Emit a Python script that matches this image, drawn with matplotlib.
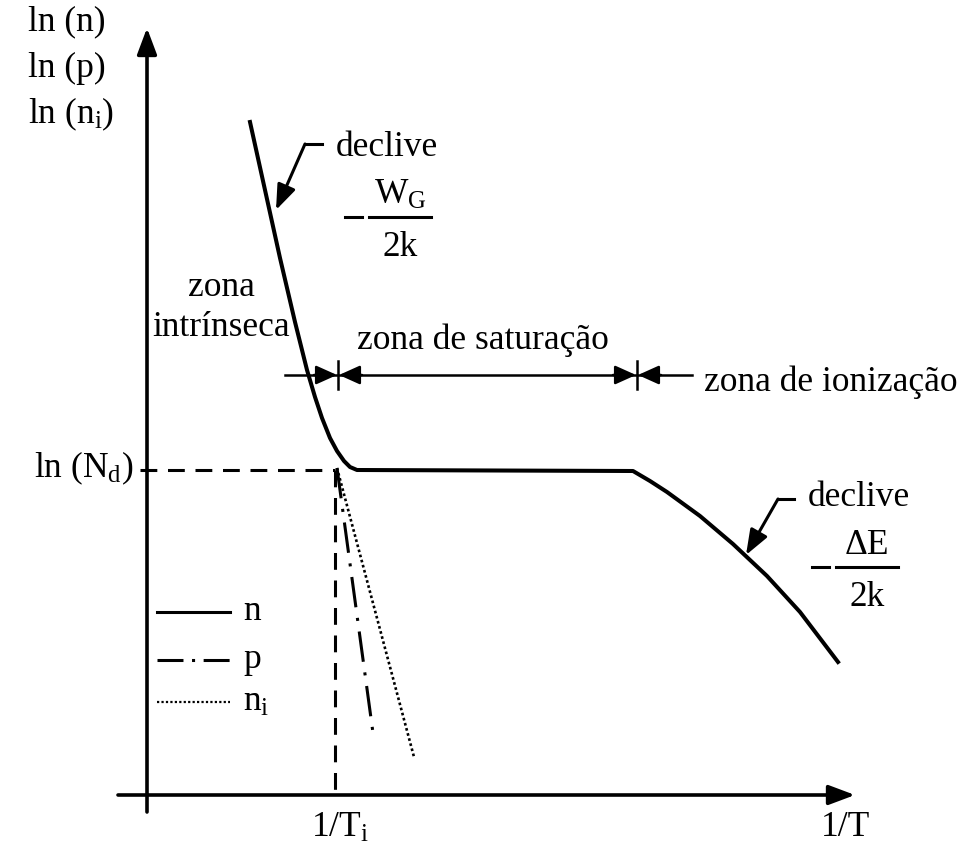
import matplotlib.pyplot as plt

plt.rcParams['font.family'] = ['Liberation Serif', 'DejaVu Serif']
plt.rcParams['mathtext.fontset'] = 'custom'
plt.rcParams['mathtext.rm'] = 'Liberation Serif'
plt.rcParams['mathtext.it'] = 'Liberation Serif:italic'

# curve n: intrinsic slope, saturation plateau, ionization slope
n_x = [250, 265, 280, 295, 307, 315, 322, 330, 337, 344, 350, 357,
       633, 650, 667, 700, 733, 767, 800, 838]
n_y = [122, 190, 258, 322, 370, 397, 418, 438, 451, 461, 467, 470,
       471, 481, 492, 516, 544, 576, 612, 662]

# p and n_i below the saturation level
p_x = [337, 373]
p_y = [468, 733]
ni_x = [337, 414]
ni_y = [468, 757]

# reference levels
nd_level = 470
ti_pos = 335
zone_y = 375
zone_ticks = [338, 637]
zone_span = [285, 692]

y_labels = ['ln (n)', 'ln (p)', 'ln (n$_\\mathrm{i}$)']
legend_labels = ['n', 'p', 'n$_\\mathrm{i}$']

FS = 25.5
LW = 2.9

fig = plt.figure(figsize=(9.64, 8.47), dpi=100)
ax = fig.add_axes([0, 0, 1, 1])
ax.set_xlim(0, 964)
ax.set_ylim(847, 0)
ax.axis('off')


def arrow(x0, y0, x1, y1, lw=2.2, scale=18, hl=0.8, hw=0.3):
    ax.annotate('', xy=(x1, y1), xytext=(x0, y0),
                arrowprops=dict(arrowstyle=f'-|>,head_length={hl},head_width={hw}',
                                color='black', lw=lw, shrinkA=0, shrinkB=0,
                                mutation_scale=scale))


# axes
arrow(147, 812, 147, 28, lw=2.6, scale=20, hl=0.8, hw=0.3)
arrow(118, 795, 855, 795, lw=2.6, scale=20, hl=0.8, hw=0.3)

# ln(Nd) and 1/Ti guides
ax.plot([140, ti_pos], [nd_level, nd_level], color='black', lw=2.2,
        linestyle=(0, (5.5, 3.5)))
ax.plot([ti_pos, ti_pos], [nd_level, 800], color='black', lw=2.2,
        linestyle=(0, (5.5, 3.5)))

# carrier curves
ax.plot(n_x, n_y, color='black', lw=LW, solid_joinstyle='round')
ax.plot(p_x, p_y, color='black', lw=2.2, linestyle=(0, (10, 3.5, 1, 3.5)))
ax.plot(ni_x, ni_y, color='black', lw=1.9, linestyle=(0, (1, 1)))

# zone boundaries
ax.plot(zone_span, [zone_y, zone_y], color='black', lw=1.8)
for t in zone_ticks:
    ax.plot([t, t], [zone_y - 14, zone_y + 14], color='black', lw=1.8)
    arrow(t - 24, zone_y, t - 1, zone_y, lw=1.8, scale=16, hl=0.8, hw=0.36)
    arrow(t + 24, zone_y, t + 1, zone_y, lw=1.8, scale=16, hl=0.8, hw=0.36)

ax.text(221, 287, 'zona', fontsize=FS, ha='center', va='center')
ax.text(221, 327, 'intrínseca', fontsize=FS, ha='center', va='center')
ax.text(483, 340, 'zona de saturação', fontsize=FS, ha='center', va='center')
ax.text(704, 382, 'zona de ionização', fontsize=FS, ha='left', va='center')

# axis labels
for i, lab in enumerate(y_labels):
    ax.text(28, 22 + i * 46, lab, fontsize=FS, ha='left', va='center')
ax.text(133, 468, 'ln (N$_\\mathrm{d}$)', fontsize=FS, ha='right', va='center')
ax.text(340, 828, '1/T$_\\mathrm{i}$', fontsize=FS, ha='center', va='center')
ax.text(845, 828, '1/T', fontsize=FS, ha='center', va='center')


def slope_note(x_text, y_text, numer, x_bar, hook, tip):
    ax.text(x_text, y_text, 'declive', fontsize=FS, ha='left', va='center')
    bar_y = y_text + 70
    ax.plot([x_bar - 60, x_bar - 43], [bar_y, bar_y], color='black', lw=2.2)
    ax.plot([x_bar - 36, x_bar + 26], [bar_y, bar_y], color='black', lw=2.2)
    ax.text(x_bar - 5, bar_y - 22, numer, fontsize=FS, ha='center', va='center')
    ax.text(x_bar - 5, bar_y + 30, '2k', fontsize=FS, ha='center', va='center')
    ax.plot([x_text - 14, hook[0]], [hook[1], hook[1]], color='black', lw=2.2)
    arrow(hook[0], hook[1], tip[0], tip[1], lw=2.2, scale=18, hl=0.85, hw=0.32)


slope_note(336, 147, 'W$_\\mathrm{G}$', 405, (305, 144), (276, 210))
slope_note(808, 497, 'ΔE', 872, (778, 499), (746, 555))

# legend
leg_y = [612, 660, 702]
ax.plot([157, 230], [leg_y[0]] * 2, color='black', lw=2.2)
ax.plot([157, 230], [leg_y[1]] * 2, color='black', lw=2.2,
        linestyle=(0, (8.5, 2.8, 1, 2.8)))
ax.plot([157, 230], [leg_y[2]] * 2, color='black', lw=1.6,
        linestyle=(0, (1, 1)))
for y, lab in zip(leg_y, legend_labels):
    ax.text(243, y, lab, fontsize=FS, ha='left', va='center')

fig.savefig('out.png', dpi=100)
